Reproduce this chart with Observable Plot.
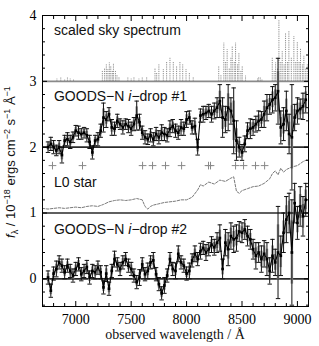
<!DOCTYPE html>
<html><head><meta charset="utf-8">
<script src="https://cdn.jsdelivr.net/npm/d3@7"></script>
<script src="https://cdn.jsdelivr.net/npm/@observablehq/plot@0.6"></script>
<style>body{margin:0;background:#fff} #chart svg{display:block}</style>
</head><body><div id="chart"></div>
<script>
// wavelength bins (Å)
const wave = [
 6750,6775,6800,6825,6850,6875,6900,6925,6950,6975,
 7000,7025,7050,7075,7100,7125,7150,7175,7200,7225,
 7250,7275,7300,7325,7350,7375,7400,7425,7450,7475,
 7500,7525,7550,7575,7600,7625,7650,7675,7700,7725,
 7750,7775,7800,7825,7850,7875,7900,7925,7950,7975,
 8000,8025,8050,8075,8100,8125,8150,8175,8200,8225,
 8250,8275,8300,8325,8350,8375,8400,8425,8450,8475,
 8500,8525,8550,8575,8600,8625,8650,8675,8700,8725,
 8750,8775,8800,8825,8850,8875,8900,8925,8950,8975,
 9000,9025,9050,9075];
// GOODS-N i-drop #1 flux and error (offset +2 in plot)
const flux1 = [
 0.00,0.05,0.00,-0.05,0.00,-0.12,0.10,0.12,0.08,0.15,
 0.25,0.22,0.20,0.22,0.18,0.08,-0.08,0.10,0.12,0.25,
 0.45,0.42,0.50,0.30,0.28,0.40,0.35,0.30,0.35,0.32,
 0.28,0.35,0.48,0.38,0.22,0.15,0.12,0.18,0.12,0.20,
 0.15,0.22,0.20,0.18,0.28,0.32,0.25,0.22,0.30,0.28,
 0.42,0.45,0.30,0.32,0.00,0.48,0.50,0.52,0.55,0.50,
 0.55,0.60,0.70,0.45,0.42,0.60,0.55,0.40,0.10,0.00,
 -0.08,0.05,0.25,0.28,0.30,0.35,0.40,0.42,0.50,0.60,
 0.65,0.72,0.75,0.85,0.30,0.35,0.55,0.20,0.15,0.45,
 0.55,0.58,0.62,0.72];
const err1 = [
 0.08,0.10,0.10,0.08,0.10,0.12,0.08,0.10,0.10,0.08,
 0.08,0.10,0.08,0.08,0.10,0.10,0.10,0.08,0.10,0.10,
 0.22,0.12,0.10,0.12,0.10,0.10,0.08,0.10,0.08,0.10,
 0.10,0.10,0.22,0.12,0.10,0.10,0.08,0.10,0.10,0.10,
 0.10,0.12,0.10,0.10,0.12,0.10,0.10,0.10,0.12,0.10,
 0.12,0.10,0.10,0.12,0.12,0.10,0.12,0.10,0.10,0.12,
 0.12,0.15,0.25,0.30,0.20,0.35,0.20,0.50,0.30,0.15,
 0.12,0.12,0.12,0.15,0.12,0.12,0.15,0.12,0.20,0.20,
 0.15,0.20,0.20,0.50,0.25,0.25,0.30,0.30,0.80,0.20,
 0.20,0.15,0.20,0.20];
// GOODS-N i-drop #2 flux and error (offset 0)
const flux2 = [
 0.02,-0.18,0.08,0.15,0.25,0.20,0.10,0.20,0.12,0.05,
 0.15,0.22,0.07,0.12,0.18,0.02,0.12,0.10,0.17,0.10,
 -0.13,0.08,-0.15,0.12,0.30,0.22,0.15,0.25,0.30,0.20,
 0.15,0.05,-0.05,0.02,0.22,0.07,0.12,0.25,0.28,0.07,
 -0.08,-0.22,-0.10,0.05,0.30,0.15,0.12,0.38,0.25,0.20,
 0.08,0.12,0.28,0.38,0.30,0.42,0.47,0.40,0.45,0.52,
 0.48,0.55,0.62,0.15,0.55,0.45,0.65,0.60,0.62,0.72,
 0.70,0.75,0.65,0.60,0.45,0.35,0.40,0.30,0.38,0.30,
 0.12,0.35,0.25,0.40,0.35,0.70,0.90,1.00,0.40,1.15,
 0.85,1.10,0.95,1.20];
const err2 = [
 0.10,0.10,0.10,0.12,0.10,0.10,0.10,0.10,0.10,0.10,
 0.10,0.10,0.10,0.10,0.10,0.10,0.10,0.10,0.10,0.10,
 0.10,0.12,0.10,0.10,0.12,0.10,0.10,0.10,0.10,0.10,
 0.10,0.10,0.10,0.12,0.10,0.10,0.12,0.10,0.12,0.10,
 0.10,0.10,0.12,0.10,0.10,0.10,0.12,0.12,0.10,0.10,
 0.10,0.12,0.10,0.12,0.10,0.12,0.10,0.12,0.10,0.12,
 0.12,0.15,0.20,0.15,0.20,0.25,0.20,0.20,0.20,0.15,
 0.15,0.15,0.15,0.15,0.15,0.20,0.15,0.20,0.20,0.25,
 0.20,0.25,0.20,0.70,0.30,0.30,0.35,0.30,0.80,0.30,
 0.25,0.30,0.30,0.25];
// L0 star template (plotted value)
const starWave = [6700,6750,6800,6850,6900,6950,7000,7050,7100,7150,7200,7250,7300,7350,7400,7450,7500,7550,7600,7625,7650,7675,7700,7750,7800,7850,7900,7950,8000,8050,8100,8125,8150,8200,8250,8300,8350,8400,8425,8450,8475,8500,8550,8600,8650,8700,8750,8775,8800,8825,8850,8875,8900,8950,9000,9050,9100];
const starFlux = [1.07,1.06,1.07,1.08,1.07,1.08,1.09,1.08,1.10,1.11,1.10,1.13,1.17,1.19,1.20,1.19,1.20,1.22,1.20,1.10,1.06,1.10,1.12,1.14,1.16,1.17,1.18,1.20,1.20,1.24,1.35,1.43,1.41,1.47,1.44,1.50,1.48,1.53,1.55,1.33,1.30,1.34,1.37,1.40,1.41,1.45,1.52,1.60,1.64,1.58,1.68,1.62,1.66,1.70,1.72,1.78,1.82];
// scaled sky spectrum lines (wavelength, height above baseline)
const skyWave = [6830,6865,6900,6925,6950,6980,7240,7260,7276,7290,7303,7316,7330,7340,7358,7372,7390,7470,7500,7525,7570,7600,7640,7715,7730,7750,7790,7820,7850,7880,7910,7940,7965,7995,8025,8060,8290,8310,8336,8352,8366,8385,8400,8412,8430,8442,8460,8472,8490,8502,8532,8640,8650,8665,8680,8773,8790,8803,8820,8833,8850,8863,8880,8893,8910,8923,8945,8968,8985,8999,9015,9028,9045,9058,9075,9089];
const skyHeight = [0.04,0.05,0.03,0.05,0.04,0.03,0.15,0.20,0.25,0.18,0.28,0.22,0.15,0.27,0.15,0.10,0.06,0.05,0.04,0.06,0.04,0.05,0.06,0.20,0.12,0.25,0.18,0.30,0.35,0.30,0.22,0.30,0.25,0.18,0.12,0.06,0.22,0.10,0.58,0.30,0.48,0.20,0.35,0.52,0.30,0.58,0.25,0.42,0.15,0.22,0.08,0.04,0.06,0.05,0.03,0.35,0.15,0.28,0.20,0.92,0.30,0.45,0.25,0.72,0.30,0.76,0.35,0.68,0.30,0.60,0.30,0.50,0.25,0.38,0.20,0.25];
// masked sky-line markers
const markWave = [6790,7061,7603,7693,7810,7955,8198,8216,8442,8514,8622,8704];
const markLevel = 1.72;
// panel offsets
const offset1 = 2, offsetSky = 3, offsetStar = 1, offset2 = 0;
const majorX = [7000,7500,8000,8500,9000];
const minorX = [6700,6800,6900,7100,7200,7300,7400,7600,7700,7800,7900,8100,8200,8300,8400,8600,8700,8800,8900,9100];
const majorY = [0,1,2,3,4];
const minorY = [-0.4,-0.2,0.2,0.4,0.6,0.8,1.2,1.4,1.6,1.8,2.2,2.4,2.6,2.8,3.2,3.4,3.6,3.8];

const s1 = wave.map((w,i)=>({w, v: flux1[i]+offset1, e: err1[i]}));
const s2 = wave.map((w,i)=>({w, v: flux2[i]+offset2, e: err2[i]}));
const star = starWave.map((w,i)=>({w, v: starFlux[i]}));
const sky = skyWave.map((w,i)=>({w, h: skyHeight[i]}));
const marks = markWave.map(w=>({w, v: markLevel}));
const capW = 20;

function specMarks(data){
  return [
    Plot.ruleX(data, {x:"w", y1:d=>d.v-d.e*0.6, y2:d=>d.v+d.e*0.6, stroke:"#9a9a9a", strokeWidth:2.5}),
    Plot.ruleX(data, {x:"w", y1:d=>d.v-d.e, y2:d=>d.v+d.e, stroke:"#111", strokeWidth:1}),
    Plot.link(data, {x1:d=>d.w-capW, x2:d=>d.w+capW, y1:d=>d.v+d.e, y2:d=>d.v+d.e, stroke:"#111", strokeWidth:1}),
    Plot.link(data, {x1:d=>d.w-capW, x2:d=>d.w+capW, y1:d=>d.v-d.e, y2:d=>d.v-d.e, stroke:"#111", strokeWidth:1}),
    Plot.line(data, {x:"w", y:"v", stroke:"#000", strokeWidth:1.1}),
    Plot.dot(data, {x:"w", y:"v", symbol:"square", r:1.5, fill:"#000"})
  ];
}
const noText = () => "";
const chart = Plot.plot({
  width: 319, height: 346,
  marginLeft: 42, marginRight: 11, marginTop: 15, marginBottom: 40,
  style: {fontFamily: "Liberation Serif", background: "white", color: "black"},
  x: {domain: [6700, 9100], label: null},
  y: {domain: [-0.42, 4], label: null},
  marks: [
    Plot.ruleX(sky, {x:"w", y1: offsetSky, y2: d=>offsetSky+d.h, stroke:"#8c8c8c", strokeWidth:1, strokeDasharray:"1.2,1"}),
    Plot.ruleY([offsetSky], {stroke:"#8a8a8a", strokeWidth:1.6}),
    Plot.ruleY([offset1, offsetStar, offset2], {stroke:"#2a2a2a", strokeWidth:1.6}),
    Plot.line(star, {x:"w", y:"v", stroke:"#7a7a7a", strokeWidth:1, strokeDasharray:"2.5,1.5"}),
    Plot.dot(marks, {x:"w", y:"v", symbol:"plus", r:2.6, stroke:"#888", strokeWidth:1}),
    ...specMarks(s1),
    ...specMarks(s2),
    Plot.frame({stroke:"#000", strokeWidth:1}),
    Plot.axisX({ticks: majorX, tickSize: 0, tickPadding: 8, fontSize: 14, tickFormat: d=>String(d)}),
    Plot.axisX({ticks: majorX, tickSize: -5, tickFormat: noText}),
    Plot.axisX({ticks: minorX, tickSize: -3, tickFormat: noText}),
    Plot.axisX({anchor:"top", ticks: majorX, tickSize: -5, tickFormat: noText}),
    Plot.axisX({anchor:"top", ticks: minorX, tickSize: -3, tickFormat: noText}),
    Plot.axisY({ticks: majorY, tickSize: 0, tickPadding: 6, fontSize: 14, tickFormat: d=>String(d)}),
    Plot.axisY({ticks: majorY, tickSize: -5, tickFormat: noText}),
    Plot.axisY({ticks: minorY, tickSize: -3, tickFormat: noText}),
    Plot.axisY({anchor:"right", ticks: majorY, tickSize: -5, tickFormat: noText}),
    Plot.axisY({anchor:"right", ticks: minorY, tickSize: -3, tickFormat: noText})
  ]
});
document.getElementById("chart").appendChild(chart);

const svg = d3.select(chart);
const xs = chart.scale("x"), ys = chart.scale("y");
function label(parts, wx, vy){
  const t = svg.append("text").attr("x", xs.apply(wx)).attr("y", ys.apply(vy))
    .attr("text-anchor","start")
    .attr("font-family","Liberation Sans").attr("font-size",14).attr("fill","#111");
  for (const [s, it] of parts) t.append("tspan").attr("font-style", it ? "italic" : null).text(s);
}
label([["scaled sky spectrum"]], 6808, 3.70);
label([["GOODS\u2212N "],["i",1],["\u2212drop #1"]], 6808, 2.70);
label([["L0 star"]], 6808, 1.38);
label([["GOODS\u2212N "],["i",1],["\u2212drop #2"]], 6808, 0.68);

// y axis title
const yl = svg.append("text").attr("transform","translate(15,162) rotate(-90)")
  .attr("text-anchor","middle").attr("font-family","Liberation Sans").attr("font-size",13).attr("fill","#111");
const sup = [["f",0,1],["\u03bb",3,0,1],[" / 10",-3],["\u221218",-5,0,1],[" ergs cm",5],["\u22122",-5,0,1],[" s",5],["\u22121",-5,0,1],[" \u00c5",5],["\u22121",-5,0,1]];
for (const [s, dy, it, small] of sup) {
  yl.append("tspan").attr("dy", dy).attr("font-style", it ? "italic" : null).attr("font-size", small ? 9 : null).text(s);
}
// x axis title
svg.append("text").attr("x", 175).attr("y", 339).attr("text-anchor","middle")
  .attr("font-family","Liberation Serif").attr("font-size",14).attr("fill","#111")
  .text("observed wavelength / \u00c5");
</script></body></html>
